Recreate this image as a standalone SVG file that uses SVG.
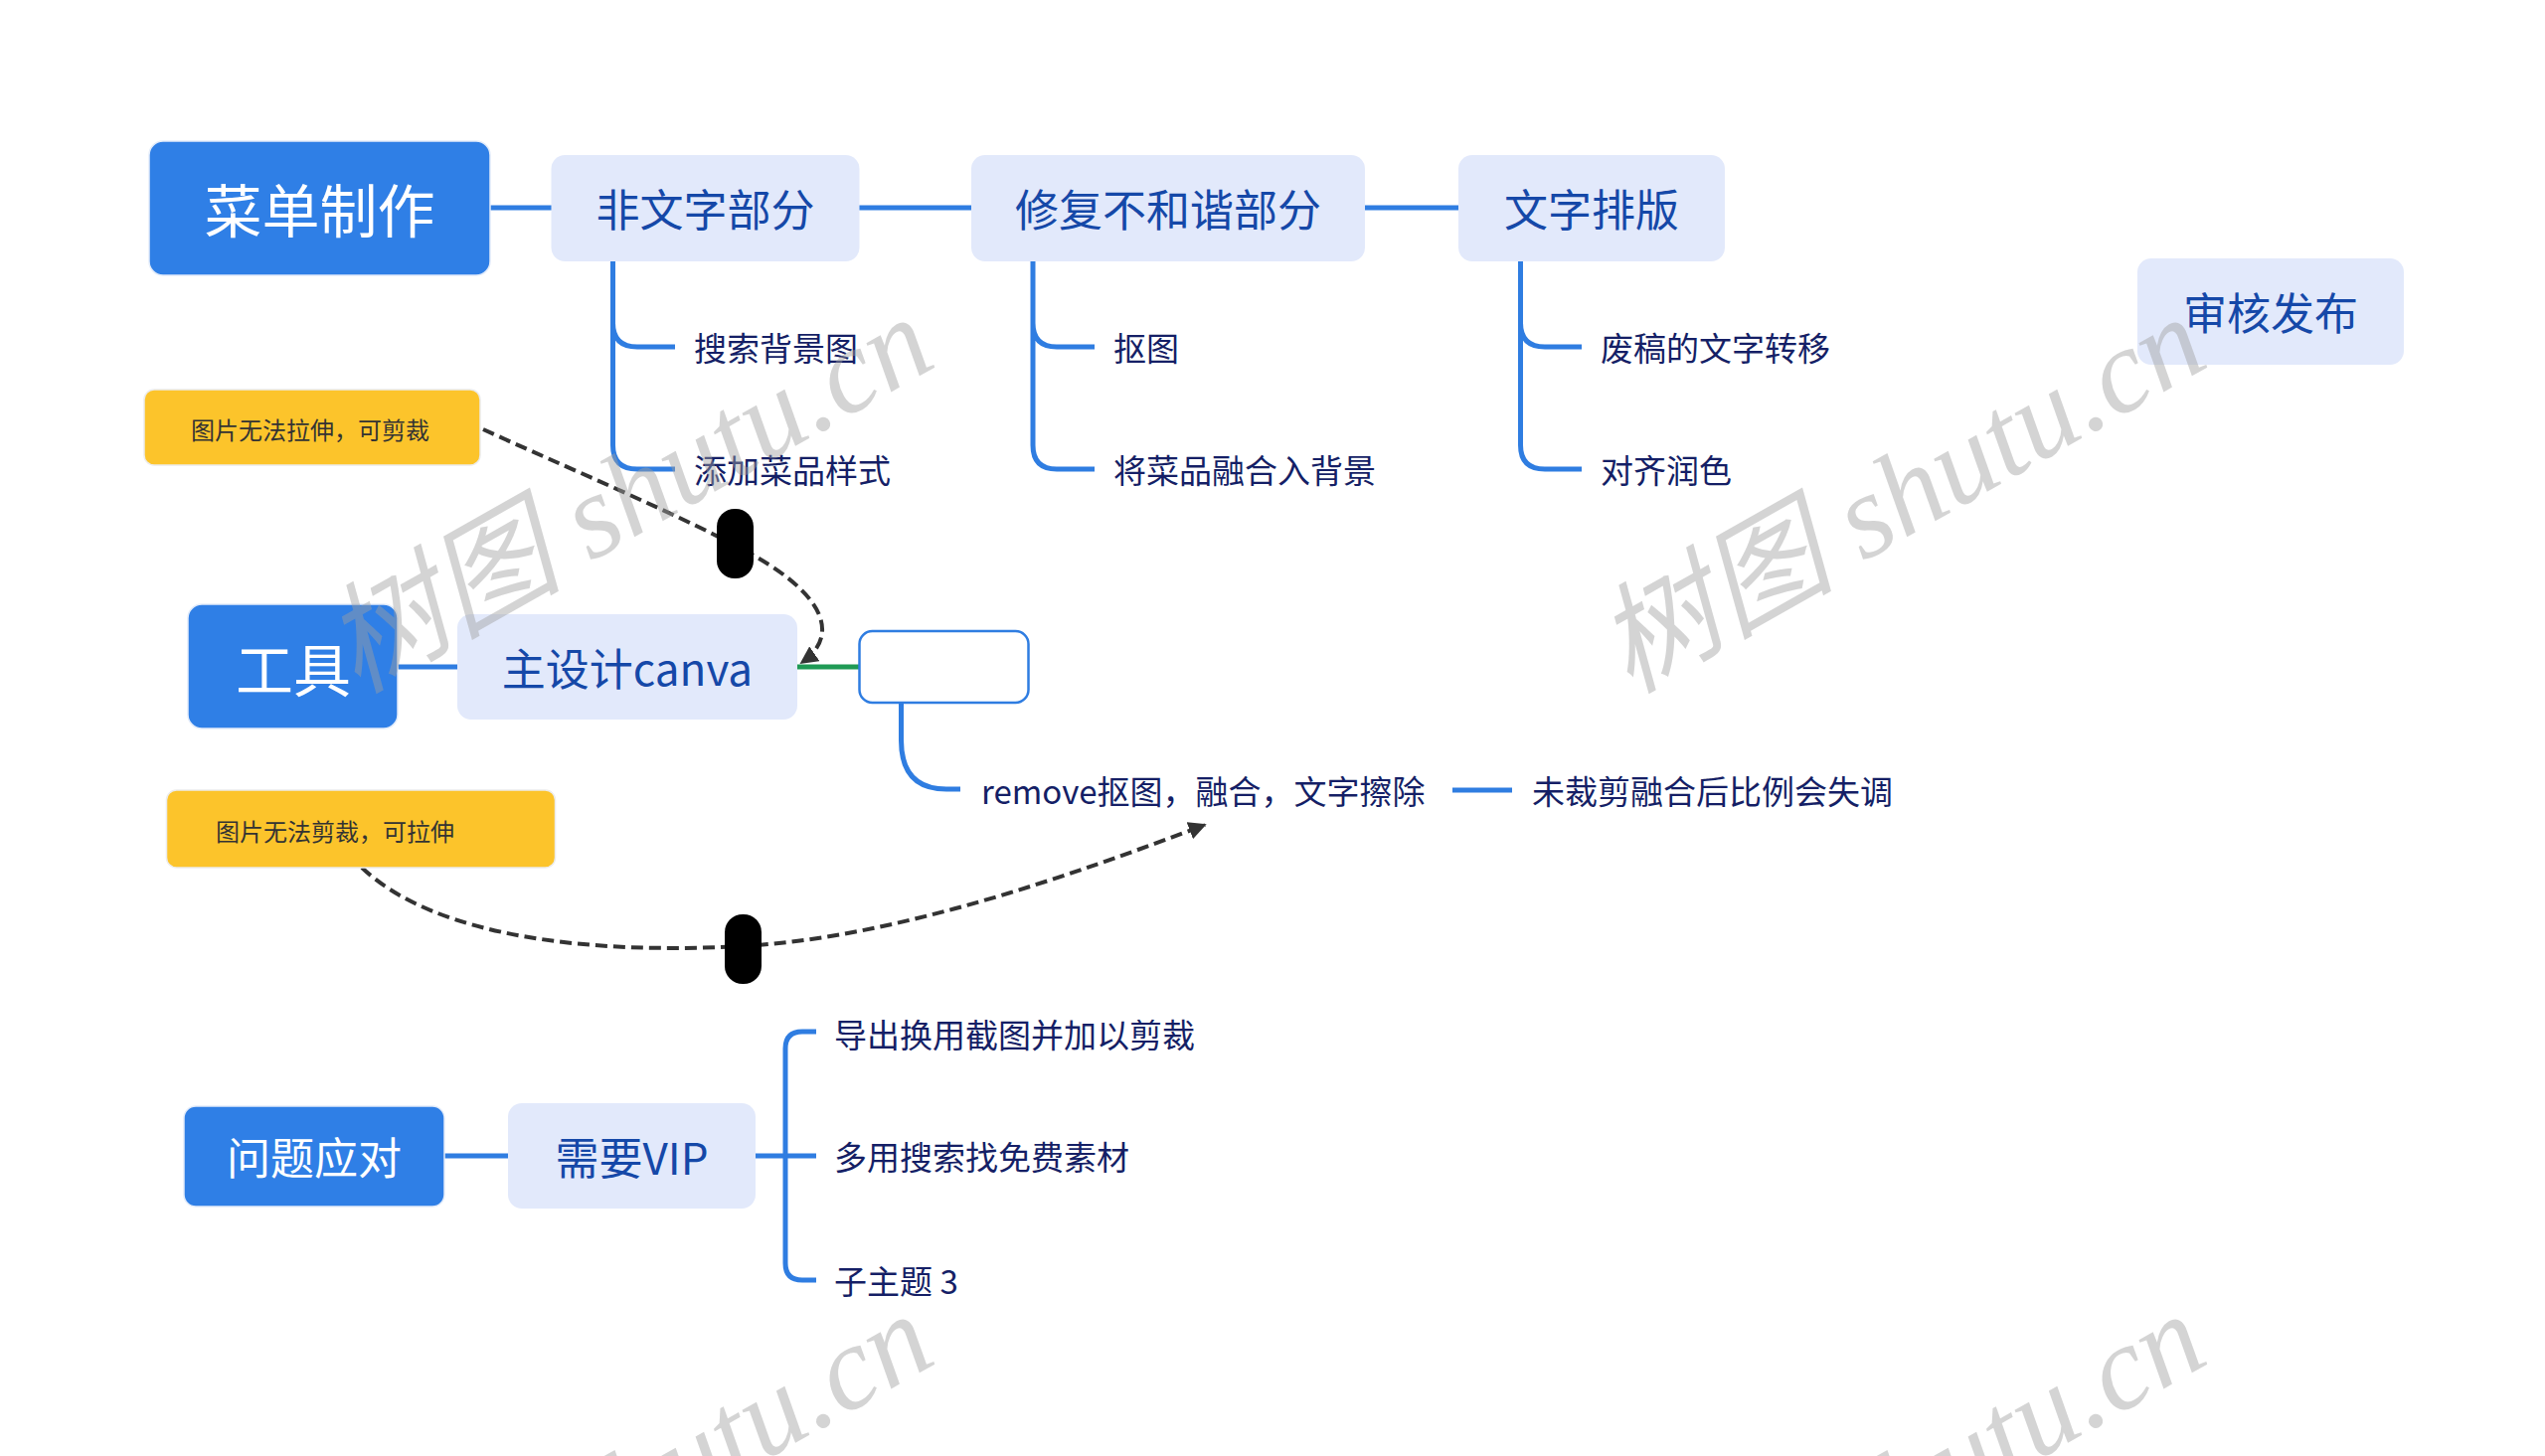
<svg xmlns="http://www.w3.org/2000/svg" width="2560" height="1465" viewBox="0 0 2560 1465">
<style>
.t{font-family:"Noto Sans CJK SC","Noto Sans",sans-serif;dominant-baseline:central}
.root rect{fill:#2f7fe6;stroke:#e3ecfa;stroke-width:1.5}
.root text{fill:#ffffff;text-anchor:middle}
.sub rect{fill:#e2e9fb}
.sub text{fill:#1548a8;font-size:44px;text-anchor:middle}
.leaf text{fill:#151f66;font-size:33px}
.note rect{fill:#fcc42b;stroke:#ececec;stroke-width:1.5}
.note text{fill:#333333;font-size:24px}
.ln{fill:none;stroke:#2f7de1;stroke-width:5;stroke-linecap:butt}
.dash{fill:none;stroke:#333333;stroke-width:4;stroke-dasharray:12 6}
.pill{fill:#000000}
.wm{font-family:"Liberation Serif","Noto Sans CJK SC",serif;font-style:italic;font-size:120px;fill:#a0a0a0;fill-opacity:0.45;text-anchor:end}
</style>
<defs>
<marker id="arr" viewBox="0 0 10 10" refX="9" refY="5" markerWidth="18" markerHeight="18" markerUnits="userSpaceOnUse" orient="auto">
<path d="M0,0 L10,5 L0,10 z" fill="#333333"/>
</marker>
</defs>
<rect width="2560" height="1465" fill="#ffffff"/>

<g id="connectors">
<path class="ln" d="M493 209 H555 M864 209 H977 M1373 209 H1467"/>
<path class="ln" d="M616.5 262 V448 Q616.5 472 641 472 H679 M616.5 325 Q616.5 349 641 349 H679"/>
<path class="ln" d="M1039 262 V448 Q1039 472 1063 472 H1101 M1039 325 Q1039 349 1063 349 H1101"/>
<path class="ln" d="M1529.5 262 V448 Q1529.5 472 1554 472 H1591 M1529.5 325 Q1529.5 349 1554 349 H1591"/>
<path class="ln" d="M400 671 H461"/>
<path d="M802 671 H864" fill="none" stroke="#1f9a55" stroke-width="5"/>
<path class="ln" d="M906.5 707 V745 Q906.5 794 952 794 H966"/>
<path class="ln" d="M1461 795 H1521"/>
<path class="ln" d="M447 1163 H511 M760 1163 H821 M821 1038 H807 Q790 1038 790 1055 V1271 Q790 1288 807 1288 H821"/>
<path class="dash" d="M486 432 C560 466 700 525 760 560 C830 600 845 640 806 667" marker-end="url(#arr)"/>
<path class="dash" d="M364 873 C440 945 600 960 746 952 C900 944 1080 880 1212 830" marker-end="url(#arr)"/>
<rect class="pill" x="721" y="512" width="37" height="70" rx="18"/>
<rect class="pill" x="729" y="920" width="37" height="70" rx="18"/>
</g>

<g id="n-menu" class="root"><rect x="150" y="142" width="343" height="135" rx="14"/><text class="t" x="321.5" y="209" font-size="58">菜单制作</text></g>
<g id="n-nontext" class="sub"><rect x="554.5" y="156" width="310" height="107" rx="14"/><text class="t" x="709.5" y="209">非文字部分</text></g>
<g id="n-fix" class="sub"><rect x="977" y="156" width="396" height="107" rx="14"/><text class="t" x="1175" y="209">修复不和谐部分</text></g>
<g id="n-typeset" class="sub"><rect x="1467" y="156" width="268" height="107" rx="14"/><text class="t" x="1601" y="209">文字排版</text></g>
<g id="n-review" class="sub"><rect x="2150" y="260" width="268" height="107" rx="14"/><text class="t" x="2284" y="313">审核发布</text></g>

<g id="n-bg" class="leaf"><text class="t" x="698" y="349">搜索背景图</text></g>
<g id="n-style" class="leaf"><text class="t" x="698" y="472">添加菜品样式</text></g>
<g id="n-cut" class="leaf"><text class="t" x="1120" y="349">抠图</text></g>
<g id="n-merge" class="leaf"><text class="t" x="1120" y="472">将菜品融合入背景</text></g>
<g id="n-move" class="leaf"><text class="t" x="1610" y="349">废稿的文字转移</text></g>
<g id="n-align" class="leaf"><text class="t" x="1610" y="472">对齐润色</text></g>

<g id="n-note1" class="note"><rect x="145" y="392" width="338" height="76" rx="10"/><text class="t" x="192" y="431">图片无法拉伸，可剪裁</text></g>

<g id="n-tools" class="root"><rect x="189" y="608" width="211" height="125" rx="14"/><text class="t" x="295" y="671" font-size="58">工具</text></g>
<g id="n-canva" class="sub"><rect x="460" y="618" width="342" height="106" rx="14"/><text class="t" x="631" y="671">主设计canva</text></g>
<g id="n-empty"><rect x="864.5" y="635" width="170" height="72" rx="13" fill="#ffffff" stroke="#2f7de1" stroke-width="2.5"/></g>
<g id="n-remove" class="leaf"><text class="t" x="987" y="795">remove抠图，融合，文字擦除</text></g>
<g id="n-ratio" class="leaf"><text class="t" x="1541" y="795">未裁剪融合后比例会失调</text></g>

<g id="n-note2" class="note"><rect x="167.5" y="795" width="391" height="78" rx="10"/><text class="t" x="217" y="835">图片无法剪裁，可拉伸</text></g>

<g id="n-issue" class="root"><rect x="185" y="1113" width="262" height="101" rx="12"/><text class="t" x="316" y="1163" font-size="44">问题应对</text></g>
<g id="n-vip" class="sub"><rect x="511" y="1110" width="249" height="106" rx="14"/><text class="t" x="635.5" y="1163">需要VIP</text></g>
<g id="n-export" class="leaf"><text class="t" x="839" y="1040">导出换用截图并加以剪裁</text></g>
<g id="n-free" class="leaf"><text class="t" x="839" y="1163">多用搜索找免费素材</text></g>
<g id="n-sub3" class="leaf"><text class="t" x="839" y="1288">子主题 3</text></g>

<g id="watermarks">
<text class="wm" transform="translate(945 367) rotate(-29.5)">树图 shutu.cn</text>
<text class="wm" transform="translate(2225 367) rotate(-29.5)">树图 shutu.cn</text>
<text class="wm" transform="translate(945 1370) rotate(-29.5)">树图 shutu.cn</text>
<text class="wm" transform="translate(2225 1370) rotate(-29.5)">树图 shutu.cn</text>
</g>
</svg>
